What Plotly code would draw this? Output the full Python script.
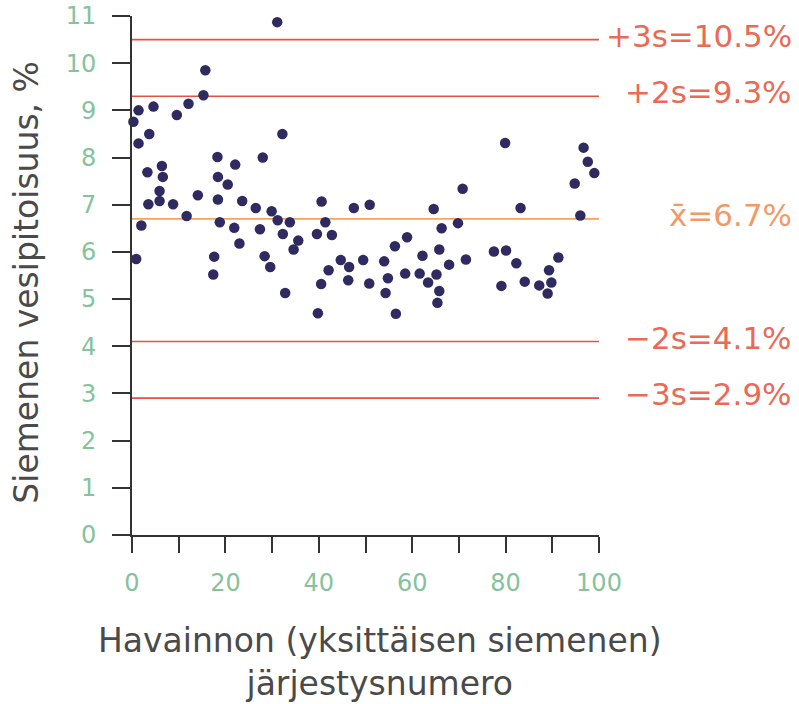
import plotly.graph_objects as go

# Observation number and seed moisture content (%)
obs_x = [31.1, 15.7, 15.3, 12.1, 4.6, 1.4, 0.3, 9.6, 1.4, 3.7, 32.2, 18.3, 28.0, 6.4, 22.1,
         3.3, 6.6, 18.4, 20.5,
         5.9, 3.5, 5.9, 8.8, 14.1, 18.4, 23.6, 26.5, 29.9, 11.7, 31.2, 33.8, 2.0, 18.8, 21.9,
         27.4, 32.3, 23.0, 35.6, 34.6, 0.9, 17.6, 28.4, 17.4, 29.6, 32.8,
         40.6, 47.5, 50.9, 64.6, 41.4, 39.6, 42.8, 66.3, 58.9, 56.3, 65.8, 44.7, 49.5, 54.0,
         46.5, 42.1, 62.2, 67.9, 58.5, 61.6, 65.2, 54.8, 46.3, 63.4, 40.5, 50.8, 54.3, 65.8,
         65.4, 39.8, 56.5,
         79.9, 96.7, 97.6, 99.0, 94.8, 70.8, 83.2, 69.8, 96.0, 77.5, 80.1, 71.5, 82.3, 91.3,
         89.3, 79.1, 84.1, 87.2, 89.8, 89.0]
moisture = [10.87, 9.85, 9.32, 9.14, 9.08, 9.0, 8.76, 8.9, 8.3, 8.5, 8.5, 8.01, 8.0, 7.82, 7.85,
            7.69, 7.59, 7.59, 7.43,
            7.29, 7.01, 7.08, 7.01, 7.2, 7.11, 7.08, 6.93, 6.86, 6.76, 6.67, 6.63, 6.56, 6.63, 6.51,
            6.48, 6.38, 6.18, 6.24, 6.05, 5.85, 5.9, 5.91, 5.52, 5.68, 5.13,
            7.07, 6.93, 7.0, 6.91, 6.63, 6.38, 6.36, 6.5, 6.31, 6.12, 6.05, 5.83, 5.83, 5.8,
            5.68, 5.61, 5.92, 5.73, 5.54, 5.54, 5.52, 5.44, 5.40, 5.35, 5.32, 5.33, 5.13, 5.17,
            4.92, 4.70, 4.69,
            8.31, 8.21, 7.91, 7.67, 7.45, 7.34, 6.93, 6.61, 6.77, 6.01, 6.03, 5.84, 5.76, 5.88,
            5.61, 5.28, 5.37, 5.29, 5.35, 5.12]

# Control limits: mean and +/- 2s, 3s
limit_values = [10.5, 9.3, 6.7, 4.1, 2.9]
limit_labels = ["+3s=10.5%", "+2s=9.3%", "x\u0304=6.7%", "\u22122s=4.1%", "\u22123s=2.9%"]
limit_colors = ["#e8503f", "#e8503f", "#f5a35e", "#e8503f", "#e8503f"]
label_colors = ["#ea6a55", "#ea6a55", "#f29a66", "#ea6a55", "#ea6a55"]

x_ticks = [0, 20, 40, 60, 80, 100]
y_ticks = list(range(0, 12))

FONT = "DejaVu Sans"
TICK_COLOR = "#86c29c"
TITLE_COLOR = "#4a4a4a"
AXIS_COLOR = "#333333"

fig = go.Figure()

for val, col in zip(limit_values, limit_colors):
    fig.add_trace(go.Scatter(x=[0, 100], y=[val, val], mode="lines",
                             line=dict(color=col, width=1.6), hoverinfo="skip",
                             showlegend=False))

fig.add_trace(go.Scatter(x=obs_x, y=moisture, mode="markers",
                         marker=dict(color="#2f2a60", size=10.5, line=dict(width=0)),
                         cliponaxis=False, showlegend=False))

for val, txt, col in zip(limit_values, limit_labels, label_colors):
    fig.add_annotation(x=1.4176, xref="paper", y=val, yref="y", text=txt,
                       showarrow=False, xanchor="right", yanchor="middle", yshift=4,
                       font=dict(family=FONT, size=31, color=col))

fig.add_annotation(x=0.532, xref="paper", y=-0.161, yref="paper",
                   text="Havainnon (yksittäisen siemenen)<br>järjestysnumero",
                   showarrow=False, xanchor="center", yanchor="top",
                   font=dict(family=FONT, size=33, color=TITLE_COLOR))
fig.add_annotation(x=-0.226, xref="paper", y=0.487, yref="paper",
                   text="Siemenen vesipitoisuus, %", textangle=-90,
                   showarrow=False, xanchor="center", yanchor="middle",
                   font=dict(family=FONT, size=33, color=TITLE_COLOR))

fig.update_xaxes(range=[0, 100], tickvals=x_ticks, ticktext=[str(v) for v in x_ticks],
                 ticks="outside", ticklen=16, tickwidth=1.6, tickcolor=AXIS_COLOR,
                 minor=dict(dtick=10, tick0=0, ticks="outside", ticklen=16,
                            tickwidth=1.6, tickcolor=AXIS_COLOR),
                 showline=True, linecolor=AXIS_COLOR, linewidth=1.6, showgrid=False,
                 zeroline=False, ticklabelstandoff=9, automargin=False,
                 tickfont=dict(family=FONT, size=24, color=TICK_COLOR))
fig.update_yaxes(range=[0, 11], tickvals=y_ticks, ticktext=[str(v) for v in y_ticks],
                 ticks="outside", ticklen=18, tickwidth=1.6, tickcolor=AXIS_COLOR,
                 showline=True, linecolor=AXIS_COLOR, linewidth=1.6, showgrid=False,
                 zeroline=False, ticklabelstandoff=11, automargin=False,
                 tickfont=dict(family=FONT, size=24, color=TICK_COLOR))

fig.update_layout(width=799, height=704, plot_bgcolor="white", paper_bgcolor="white",
                  margin=dict(l=132, r=200, t=16, b=169), showlegend=False)

fig.write_html("out.html")
